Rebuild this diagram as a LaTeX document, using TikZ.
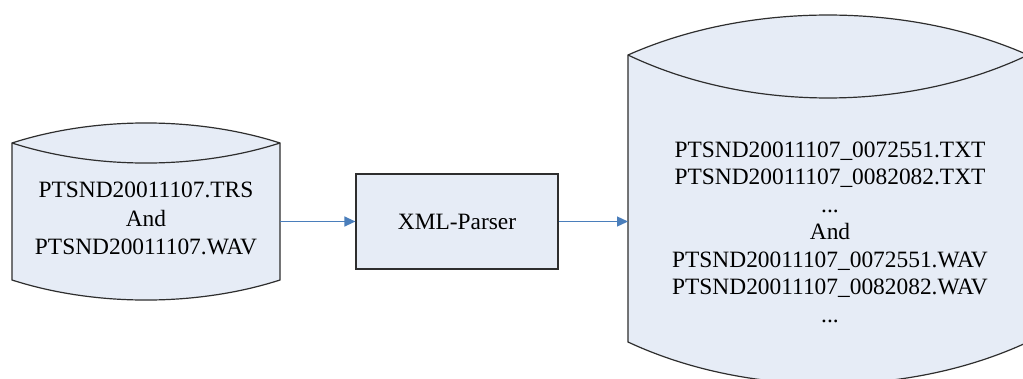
\documentclass[tikz,border=0pt]{standalone}
\usepackage{fontspec}
\setmainfont{Liberation Serif}
\usetikzlibrary{arrows.meta}
\definecolor{dbfill}{HTML}{E6ECF6}
\definecolor{dbline}{HTML}{2E2E2E}
\definecolor{flow}{HTML}{4A7EBB}
\begin{document}
\begin{tikzpicture}[x=1pt,y=-1pt,
  shapeline/.style={draw=dbline,line width=1.2pt,fill=dbfill,line join=miter},
  rimline/.style={draw=dbline,line width=1.2pt},
  body/.style={inner sep=0pt,outer sep=0pt},
  label/.style={align=center,font=\fontsize{23.4}{28.5}\selectfont,text=black,inner sep=0pt},
  flowarrow/.style={draw=flow,line width=1.3pt,-{Triangle[length=11pt,width=10pt]}}]
\useasboundingbox (0,0) rectangle (1023,378);
\fill[white] (0,0) rectangle (1023,378);
\clip (0,0) rectangle (1023,378);

% source storage drum
\path[shapeline] (12,143) .. controls (95,116.3) and (197,116.3) .. (280,143)
  -- (280,280) .. controls (197,306.7) and (95,306.7) .. (12,280) -- cycle;
\path[rimline] (12,143) .. controls (95,169.7) and (197,169.7) .. (280,143);
\node[body,minimum width=268pt,minimum height=137pt] (src) at (146,211.5) {};
\node[label] (srctext) at (146,218.5) {PTSND20011107.TRS\\And\\PTSND20011107.WAV};

% parser process
\node[shapeline,minimum width=202pt,minimum height=95pt,inner sep=0pt,
  font=\fontsize{23.4}{28.5}\selectfont] (parser) at (457,221.5) {XML-Parser};

% output storage drum
\path[shapeline] (628,55) .. controls (748,1.7) and (908,1.7) .. (1028,55)
  -- (1028,342) .. controls (908,398) and (748,398) .. (628,342) -- cycle;
\path[rimline] (628,55) .. controls (748,112.3) and (908,112.3) .. (1028,55);
\node[body,minimum width=400pt,minimum height=287pt] (dst) at (828,198.5) {};
\node[label,font=\fontsize{23.4}{27.5}\selectfont] (dsttext) at (830,232)
  {PTSND20011107\_0072551.TXT\\PTSND20011107\_0082082.TXT\\...\\And\\
   PTSND20011107\_0072551.WAV\\PTSND20011107\_0082082.WAV\\...};

% data flow
\draw[flowarrow] (src.east |- parser.west) -- (parser.west);
\draw[flowarrow] (parser.east) -- (dst.west |- parser.east);
\end{tikzpicture}
\end{document}
